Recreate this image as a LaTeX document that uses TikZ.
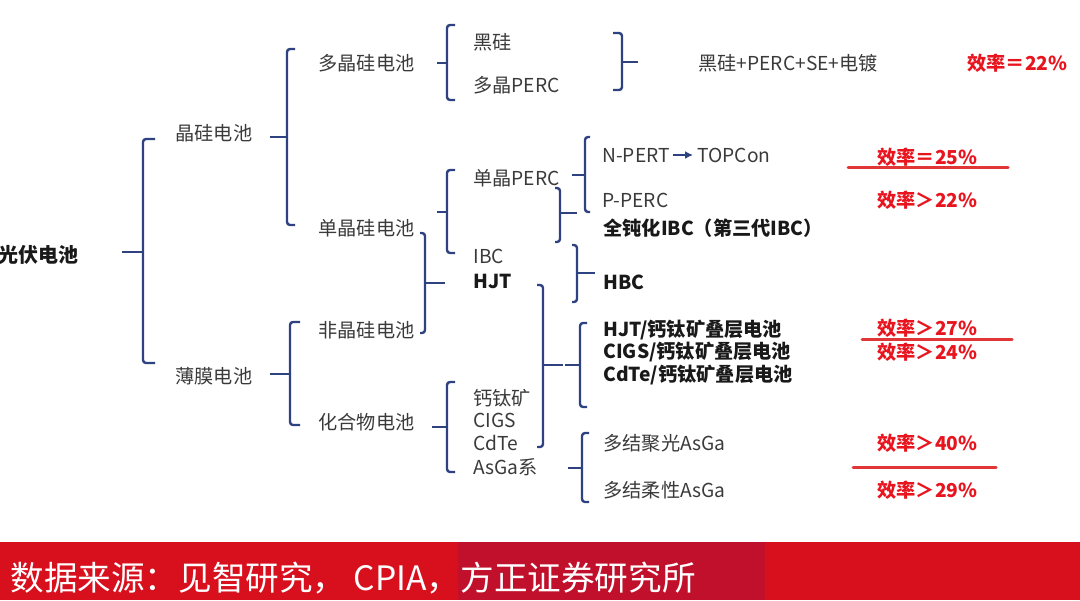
\documentclass[tikz,border=0pt]{standalone}
\usepackage{fontspec}
\setmainfont{Noto Sans CJK SC}
\usetikzlibrary{arrows.meta}
\definecolor{bnavy}{HTML}{2E4180}
\definecolor{tgray}{HTML}{3A3A3A}
\definecolor{effred}{HTML}{E8141E}
\definecolor{lred}{HTML}{E03636}
\definecolor{banred}{HTML}{D8101E}
\definecolor{bandark}{HTML}{C1102B}
\tikzset{
  lbl/.style={anchor=west, inner sep=0pt, text=tgray, font=\fontsize{9.6}{11}\selectfont},
  blbl/.style={lbl, text=black!90, font=\fontsize{9.6}{11}\selectfont\bfseries},
  eff/.style={lbl, text=effred, font=\fontsize{9.6}{11}\selectfont\bfseries},
  brk/.style={draw=bnavy, line width=1.2pt, rounded corners=1.5pt},
  rline/.style={draw=lred, line width=1.5pt, line cap=round},
  arr/.style={-{Latex[length=4pt,width=4pt]}, thick, bnavy},
}
% left bracket: x, top, bottom, tick y, tick start, serif
\newcommand{\lbrak}[6]{%
  \draw[brk] (#1+#6,-#2) -- (#1,-#2) -- (#1,-#3) -- (#1+#6,-#3);
  \draw[brk] (#5,-#4) -- (#1,-#4);}
% right bracket: x, top, bottom, tick y, tick end, serif
\newcommand{\rbrak}[6]{%
  \draw[brk] (#1-#6,-#2) -- (#1,-#2) -- (#1,-#3) -- (#1-#6,-#3);
  \draw[brk] (#1,-#4) -- (#5,-#4);}
\begin{document}
\begin{tikzpicture}[x=0.5pt, y=0.5pt]
  \useasboundingbox (0,0) rectangle (1080,-600);

  % tree labels
  \node[blbl, font=\fontsize{10}{12}\selectfont\bfseries] (pv) at (-2,-255) {光伏电池};
  \node[lbl] (jg) at (175,-133) {晶硅电池};
  \node[lbl] (bm) at (175,-376) {薄膜电池};
  \node[lbl] (djg) at (318,-63) {多晶硅电池};
  \node[lbl] (danjg) at (318,-228) {单晶硅电池};
  \node[lbl] (feijg) at (318,-330) {非晶硅电池};
  \node[lbl] (hhw) at (318,-422) {化合物电池};

  \node[lbl] (hg) at (473,-42) {黑硅};
  \node[lbl] (djperc) at (473,-85) {多晶PERC};
  \node[lbl] (danperc) at (473,-178) {单晶PERC};
  \node[lbl] (ibc) at (473,-256) {IBC};
  \node[blbl] (hjt) at (473,-281) {HJT};
  \node[lbl] (gtk) at (473,-398) {钙钛矿};
  \node[lbl] (cigs) at (473,-420) {CIGS};
  \node[lbl] (cdte) at (473,-443) {CdTe};
  \node[lbl] (asga) at (473,-467) {AsGa系};

  \node[lbl] (hgse) at (698,-63) {黑硅+PERC+SE+电镀};
  \node[lbl] (npert) at (602,-155) {N-PERT};
  \node[lbl] (topcon) at (697,-155) {TOPCon};
  \node[lbl] (pperc) at (602,-200) {P-PERC};
  \node[blbl] (qdh) at (603,-228) {全钝化IBC（第三代IBC）};
  \node[blbl] (hbc) at (603,-282) {HBC};
  \node[blbl] (hjtgt) at (603,-330) {HJT/钙钛矿叠层电池};
  \node[blbl] (cigsgt) at (603,-352) {CIGS/钙钛矿叠层电池};
  \node[blbl] (cdtegt) at (603,-375) {CdTe/钙钛矿叠层电池};
  \node[lbl] (jgas) at (603,-443) {多结聚光AsGa};
  \node[lbl] (rxas) at (603,-490) {多结柔性AsGa};

  \draw[arr, shorten <=1.5pt, shorten >=2pt] (npert) -- (topcon);

  % brackets
  \lbrak{143}{139}{363}{252}{122}{12}
  \lbrak{287}{49}{225}{137}{270}{8}
  \lbrak{290}{322}{425}{374}{270}{10}
  \lbrak{447}{25}{100}{63}{437}{8}
  \lbrak{447}{170}{253}{212}{437}{8}
  \rbrak{425}{233}{333}{283}{445}{5}
  \lbrak{447}{382}{472}{427}{432}{8}
  \rbrak{622}{33}{90}{62}{638}{9}
  \lbrak{585}{137}{212}{175}{572}{5}
  \rbrak{560}{188}{242}{213}{577}{5}
  \rbrak{577}{245}{302}{273}{595}{5}
  \rbrak{543}{285}{447}{365}{563}{6}
  \lbrak{580}{323}{407}{365}{565}{7}
  \lbrak{582}{433}{502}{468}{568}{7}

  % efficiencies
  \node[eff] (e1) at (967,-63) {效率＝22\%};
  \node[eff] (e2) at (877,-157) {效率＝25\%};
  \node[eff] (e3) at (877,-200) {效率＞22\%};
  \node[eff] (e4) at (877,-328) {效率＞27\%};
  \node[eff] (e5) at (877,-352) {效率＞24\%};
  \node[eff] (e6) at (877,-443) {效率＞40\%};
  \node[eff] (e7) at (877,-490) {效率＞29\%};
  \draw[rline] (848,-167) -- (1008,-167);
  \draw[rline] (862,-339) -- (1012,-339);
  \draw[rline] (853,-467) -- (996,-467);

  % source banner
  \fill[banred] (0,-542) rectangle (1080,-600);
  \fill[bandark] (458,-542) rectangle (765,-600);
  \node[anchor=west, inner sep=0pt, text=white, font=\fontsize{16.8}{18}\selectfont] (src) at (10,-578) {数据来源：见智研究， CPIA，方正证券研究所};
\end{tikzpicture}
\end{document}
